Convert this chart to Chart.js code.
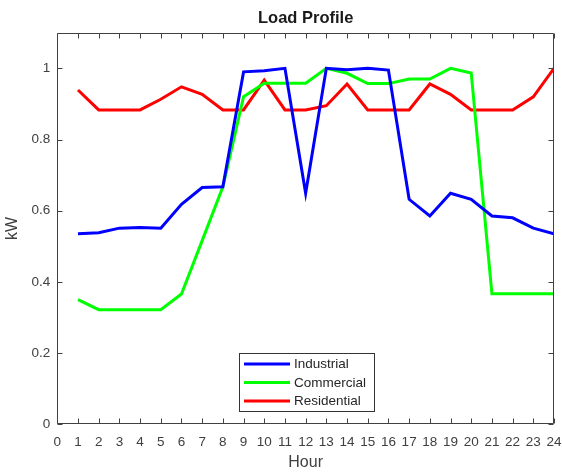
<!DOCTYPE html>
<html><head><meta charset="utf-8">
<script src="https://cdn.jsdelivr.net/npm/chart.js@4/dist/chart.umd.min.js"></script>
<style>html,body{margin:0;padding:0;background:#fff}</style>
</head><body>
<canvas id="c" width="562" height="472" style="display:block"></canvas>
<script>
const hours = [1,2,3,4,5,6,7,8,9,10,11,12,13,14,15,16,17,18,19,20,21,22,23,24];
const industrial  = [0.535,0.538,0.551,0.553,0.551,0.618,0.665,0.667,0.990,0.993,1.000,0.649,1.000,0.996,1.000,0.995,0.632,0.585,0.649,0.632,0.585,0.580,0.551,0.535];
const commercial  = [0.350,0.322,0.322,0.322,0.322,0.366,0.516,0.667,0.920,0.958,0.958,0.958,1.000,0.986,0.957,0.957,0.970,0.970,1.000,0.987,0.367,0.367,0.367,0.367];
const residential = [0.939,0.883,0.883,0.883,0.913,0.948,0.927,0.883,0.883,0.967,0.883,0.883,0.895,0.956,0.883,0.883,0.883,0.956,0.927,0.883,0.883,0.883,0.920,1.000];
const seriesNames = ['Industrial','Commercial','Residential'];
const seriesColors = ['#0000ff','#00ff00','#ff0000'];
const chartTitle = 'Load Profile';
const xTitle = 'Hour';
const yTitle = 'kW';
const xTicks = {min:0, max:24, step:1};
const yTicks = {min:0, max:1.1, step:0.2, lastLabel:1};

const FONT = '"Liberation Sans", Arial, Helvetica, sans-serif';
const AXIS = '#404040';

function pts(vals){ return hours.map((h,i)=>({x:h,y:vals[i]})); }

const boxPlugin = {
  id:'matlabBox',
  afterDraw(chart){
    const ctx = chart.ctx, a = chart.chartArea;
    const xs = chart.scales.x, ys = chart.scales.y;
    ctx.save();
    // title centered over axes
    ctx.font = 'bold 16.5px ' + FONT;
    ctx.fillStyle = '#1a1a1a';
    ctx.textAlign = 'center'; ctx.textBaseline = 'middle';
    ctx.fillText(chartTitle, (a.left + a.right)/2, 18.7);
    ctx.strokeStyle = AXIS; ctx.lineWidth = 1;
    const L = Math.round(a.left)+0.5, R = Math.round(a.right)-0.5, T = Math.round(a.top)+0.5, B = Math.round(a.bottom)-0.5;
    ctx.beginPath();
    ctx.rect(L, T, R-L, B-T);
    xs.ticks.forEach(t=>{
      const px = Math.round(xs.getPixelForValue(t.value))+0.5;
      ctx.moveTo(px,B); ctx.lineTo(px,B-5);
      ctx.moveTo(px,T); ctx.lineTo(px,T+5);
    });
    ys.ticks.forEach(t=>{
      const py = Math.round(ys.getPixelForValue(t.value))+0.5;
      ctx.moveTo(L,py); ctx.lineTo(L+5,py);
      ctx.moveTo(R,py); ctx.lineTo(R-5,py);
    });
    ctx.stroke();
    // legend
    const lx = 239.5, ly = 353.5, lw = 135, lh = 58;
    ctx.fillStyle = '#fff';
    ctx.fillRect(lx, ly, lw, lh);
    ctx.strokeStyle = '#333'; ctx.strokeRect(lx, ly, lw, lh);
    ctx.font = '13.5px ' + FONT;
    ctx.textBaseline = 'middle'; ctx.textAlign = 'left';
    chart.data.datasets.forEach((ds,i)=>{
      const y = 364 + i*18.5;
      ctx.strokeStyle = ds.borderColor; ctx.lineWidth = 3;
      ctx.beginPath(); ctx.moveTo(244,y); ctx.lineTo(290,y); ctx.stroke();
      ctx.fillStyle = '#262626';
      ctx.fillText(ds.label, 294, y+0.5);
    });
    ctx.restore();
  }
};

new Chart(document.getElementById('c'), {
  type:'line',
  data:{
    datasets:[industrial, commercial, residential].map((v,i)=>({
      label: seriesNames[i], data: pts(v), borderColor: seriesColors[i], backgroundColor: seriesColors[i],
      borderWidth: 3, pointRadius: 0, tension: 0, fill:false
    }))
  },
  options:{
    responsive:false, animation:false, devicePixelRatio:1,
    layout:{padding:{left:0,right:0,top:32.7,bottom:0}},
    plugins:{
      legend:{display:false},
      tooltip:{enabled:false},
      title:{display:false}
    },
    scales:{
      x:{type:'linear', min:xTicks.min, max:xTicks.max,
        grid:{display:false, drawTicks:false, tickLength:0}, border:{display:false},
        ticks:{stepSize:xTicks.step, autoSkip:false, maxRotation:0, color:AXIS, font:{family:FONT,size:13.5}, padding:10},
        title:{display:true, text:xTitle, color:AXIS, font:{family:FONT,size:16}, padding:{top:0,bottom:0}},
        afterFit(s){ s.height = 47.7; s.paddingRight = 8; s.paddingLeft = 0; }
      },
      y:{type:'linear', min:yTicks.min, max:yTicks.max,
        grid:{display:false, drawTicks:false, tickLength:0}, border:{display:false},
        afterBuildTicks(s){ s.ticks = s.ticks.filter(t=>t.value <= yTicks.lastLabel + 1e-6); },
        ticks:{stepSize:yTicks.step, color:AXIS, font:{family:FONT,size:13.5}, padding:7,
          callback:v=>String(Math.round(v*10)/10)},
        title:{display:true, text:yTitle, color:AXIS, font:{family:FONT,size:16}, padding:{top:3,bottom:0}},
        afterFit(s){ s.width = 57.3; s.paddingTop = 0; s.paddingBottom = 0; }
      }
    }
  },
  plugins:[boxPlugin]
});
</script>
</body></html>
